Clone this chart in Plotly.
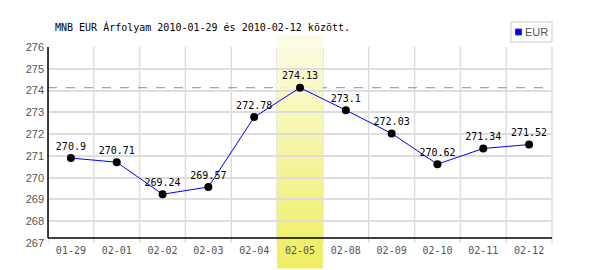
import plotly.graph_objects as go

dates = ["01-29", "02-01", "02-02", "02-03", "02-04", "02-05",
         "02-08", "02-09", "02-10", "02-11", "02-12"]
rates = [270.9, 270.71, 269.24, 269.57, 272.78, 274.13,
         273.1, 272.03, 270.62, 271.34, 271.52]
y_ticks = [267, 268, 269, 270, 271, 272, 273, 274, 275, 276]
title_text = "MNB EUR Árfolyam 2010-01-29 és 2010-02-12 között."
series_name = "EUR"
highlight_idx = rates.index(max(rates))

W, H = 600, 270
L, R, T, B = 48, 48, 47, 27
pw, ph = W - L - R, H - T - B


def px_y(py):
    return (H - B - py) / ph


def px_x(px):
    return (px - L) / pw


mono = "DejaVu Sans Mono"

fig = go.Figure()

fig.add_trace(go.Scatter(
    x=list(range(len(dates))), y=rates,
    mode="lines+markers+text",
    line=dict(color="#0000ff", width=1),
    marker=dict(color="black", size=8),
    text=[f"{v:g}" for v in rates],
    textposition="top center",
    textfont=dict(family=mono, size=10, color="black"),
    showlegend=False, cliponaxis=False,
))

shapes = []
# vertical grid at category boundaries
for i in range(len(dates)):
    shapes.append(dict(type="line", xref="x", yref="paper", x0=i - 0.5, x1=i - 0.5,
                       y0=0, y1=1, line=dict(color="#dddddd", width=1.5), layer="below"))
# right border gray
shapes.append(dict(type="line", xref="paper", yref="paper", x0=1, x1=1,
                   y0=0, y1=1, line=dict(color="#dddddd", width=1.5), layer="below"))
# max dashed line
shapes.append(dict(type="line", xref="paper", yref="y", x0=0, x1=1,
                   y0=max(rates), y1=max(rates),
                   line=dict(color="#7f7fff", width=1, dash="dash"), layer="between"))
# gradient highlight column
n = 40
y_top, y_bot = 35, 268
c0 = (252, 252, 230)
c1 = (238, 238, 96)
for i in range(n):
    t = i / (n - 1)
    col = tuple(round(c0[k] + (c1[k] - c0[k]) * t) for k in range(3))
    ya = y_top + (y_bot - y_top) * i / n
    yb = y_top + (y_bot - y_top) * (i + 1) / n
    shapes.append(dict(type="rect", xref="x", yref="paper",
                       x0=highlight_idx - 0.5, x1=highlight_idx + 0.5,
                       y0=px_y(yb) - 0.002, y1=px_y(ya),
                       fillcolor="rgb(%d,%d,%d)" % col, line=dict(width=0),
                       layer="between"))
# black axes lines
ax_y = px_y(238)
shapes.append(dict(type="line", xref="paper", yref="paper", x0=0, x1=1,
                   y0=ax_y, y1=ax_y, line=dict(color="black", width=1.5)))
shapes.append(dict(type="line", xref="paper", yref="paper", x0=0, x1=0,
                   y0=ax_y, y1=1, line=dict(color="black", width=1.5)))
# legend box
shapes.append(dict(type="rect", xref="paper", yref="paper",
                   x0=px_x(511), x1=px_x(552), y0=px_y(42), y1=px_y(22),
                   fillcolor="white", line=dict(color="#dddddd", width=1.5)))
shapes.append(dict(type="rect", xref="paper", yref="paper",
                   x0=px_x(515.5), x1=px_x(521.5), y0=px_y(35), y1=px_y(29),
                   fillcolor="#0000ff", line=dict(color="#444444", width=1)))

annotations = [
    dict(text=title_text, xref="paper", yref="paper", x=px_x(53), y=px_y(27),
         xanchor="left", yanchor="middle", showarrow=False,
         font=dict(family=mono, size=10, color="black")),
    dict(text=series_name, xref="paper", yref="paper", x=px_x(523), y=px_y(32),
         xanchor="left", yanchor="middle", showarrow=False,
         font=dict(family="Liberation Sans", size=11, color="#555555")),
]

fig.update_layout(
    width=W, height=H, margin=dict(l=L, r=R, t=T, b=B),
    paper_bgcolor="white", plot_bgcolor="white",
    shapes=shapes, annotations=annotations,
    xaxis=dict(range=[-0.5, len(dates) - 0.5], tickmode="array",
               tickvals=list(range(len(dates))), ticktext=dates,
               showgrid=False, zeroline=False, showline=False, ticks="",
               tickfont=dict(family=mono, size=10, color="#555555")),
    yaxis=dict(range=[267, 276], tickmode="array", tickvals=y_ticks,
               showgrid=True, gridcolor="#dddddd", gridwidth=1.5,
               zeroline=False, showline=False, ticks="", ticklabelstandoff=3,
               tickfont=dict(family="Liberation Sans", size=11, color="#555555")),
)

fig.write_html("out.html")
